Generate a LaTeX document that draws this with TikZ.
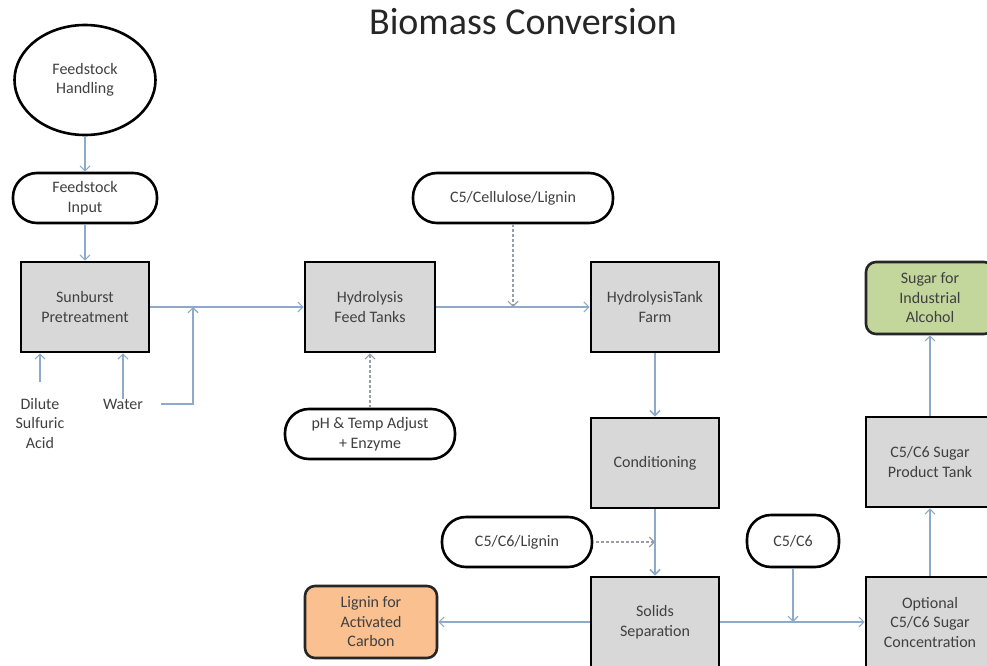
\documentclass[tikz,border=0pt]{standalone}
\usepackage{fontspec}
\setmainfont{Carlito}
\usetikzlibrary{shapes.geometric,arrows.meta}
\definecolor{boxgray}{RGB}{216,216,216}
\definecolor{flowblue}{RGB}{142,170,200}
\definecolor{dashgray}{RGB}{150,158,170}
\definecolor{leafgreen}{RGB}{195,214,155}
\definecolor{carbonorange}{RGB}{250,192,143}
\definecolor{txtgray}{RGB}{64,64,64}
\begin{document}
\begin{tikzpicture}[x=1pt,y=-1pt,
  txt/.style={font=\fontsize{16}{19.5}\selectfont,text=txtgray,align=center},
  tank/.style={txt,draw,line width=2.8pt,fill=boxgray,minimum width=128pt,minimum height=90pt,inner sep=0pt},
  pill/.style={txt,draw,line width=2.6pt,fill=white,rounded corners=24pt,minimum height=50pt,inner sep=0pt},
  product/.style={txt,draw=black!85,line width=2.6pt,rounded corners=10pt,minimum width=128pt,minimum height=72pt,inner sep=0pt},
  flow/.style={flowblue,line width=1.1pt,-{Straight Barb[length=5pt,width=10pt]}},
  feed/.style={flow,dashgray,dash pattern=on 3pt off 2pt}]
\useasboundingbox (0,0) rectangle (987,666);
\node[font=\fontsize{38}{40}\selectfont,text=black!85,anchor=base] (title) at (523,35) {Biomass Conversion};
\node[txt,draw,ellipse,line width=2.6pt,minimum width=141pt,minimum height=110pt,inner sep=0pt] (handling) at (85,80) {Feedstock\\Handling};
\node[pill,minimum width=144pt] (input) at (85,198) {Feedstock\\Input};
\node[tank] (pretreat) at (85,307) {Sunburst\\Pretreatment};
\node[txt] (acid) at (40,423) {Dilute\\Sulfuric\\Acid};
\node[txt] (water) at (123,404) {Water};
\coordinate (merge) at (193,307);
\node[tank,minimum width=130pt] (feedtanks) at (370,307) {Hydrolysis\\Feed Tanks};
\node[pill,minimum width=170pt] (ph) at (370,434) {pH \& Temp  Adjust\\+ Enzyme};
\node[pill,minimum width=200pt] (cellulose) at (513,198) {C5/Cellulose/Lignin};
\node[tank] (tankfarm) at (655,307) {HydrolysisTank\\Farm};
\node[tank] (conditioning) at (655,463) {Conditioning};
\node[pill,minimum width=150pt] (lignin) at (517,542) {C5/C6/Lignin};
\node[tank] (solids) at (655,622) {Solids\\Separation};
\node[product,fill=carbonorange,minimum width=132pt] (carbon) at (371,622) {Lignin for\\Activated\\Carbon};
\node[pill,minimum width=92pt,minimum height=52pt] (sugars) at (793,541) {C5/C6};
\node[tank] (optional) at (930,622) {Optional\\C5/C6 Sugar\\Concentration};
\node[tank] (sugartank) at (930,462) {C5/C6 Sugar\\Product Tank};
\node[product,fill=leafgreen] (alcohol) at (930,298) {Sugar for\\Industrial\\Alcohol};
\draw[flow] (handling) -- (input);
\draw[flow] (input) -- (pretreat);
\draw[flow] ([yshift=12pt]acid.north) -- (pretreat.south -| acid.north);
\draw[flow] ([yshift=-4pt]water.north) -- (pretreat.south -| water.north);
\draw[flow] ([xshift=15pt]water.east) -| (merge);
\draw[flow] (pretreat) -- (feedtanks);
\draw[feed] (ph) -- (feedtanks);
\draw[flow] (feedtanks) -- (tankfarm);
\draw[feed] (cellulose) -- (cellulose.south |- feedtanks.east);
\draw[flow,line width=1.6pt] (tankfarm) -- (conditioning);
\draw[flow,line width=1.6pt] (conditioning) -- (solids);
\draw[feed] ([xshift=3pt]lignin.east) -- (conditioning.south |- lignin.east);
\draw[flow] (solids) -- (carbon);
\draw[flow] (solids) -- (optional);
\draw[flow] (sugars) -- (sugars.south |- solids.east);
\draw[flow] (optional) -- (sugartank);
\draw[flow] (sugartank) -- (alcohol);
\end{tikzpicture}
\end{document}
